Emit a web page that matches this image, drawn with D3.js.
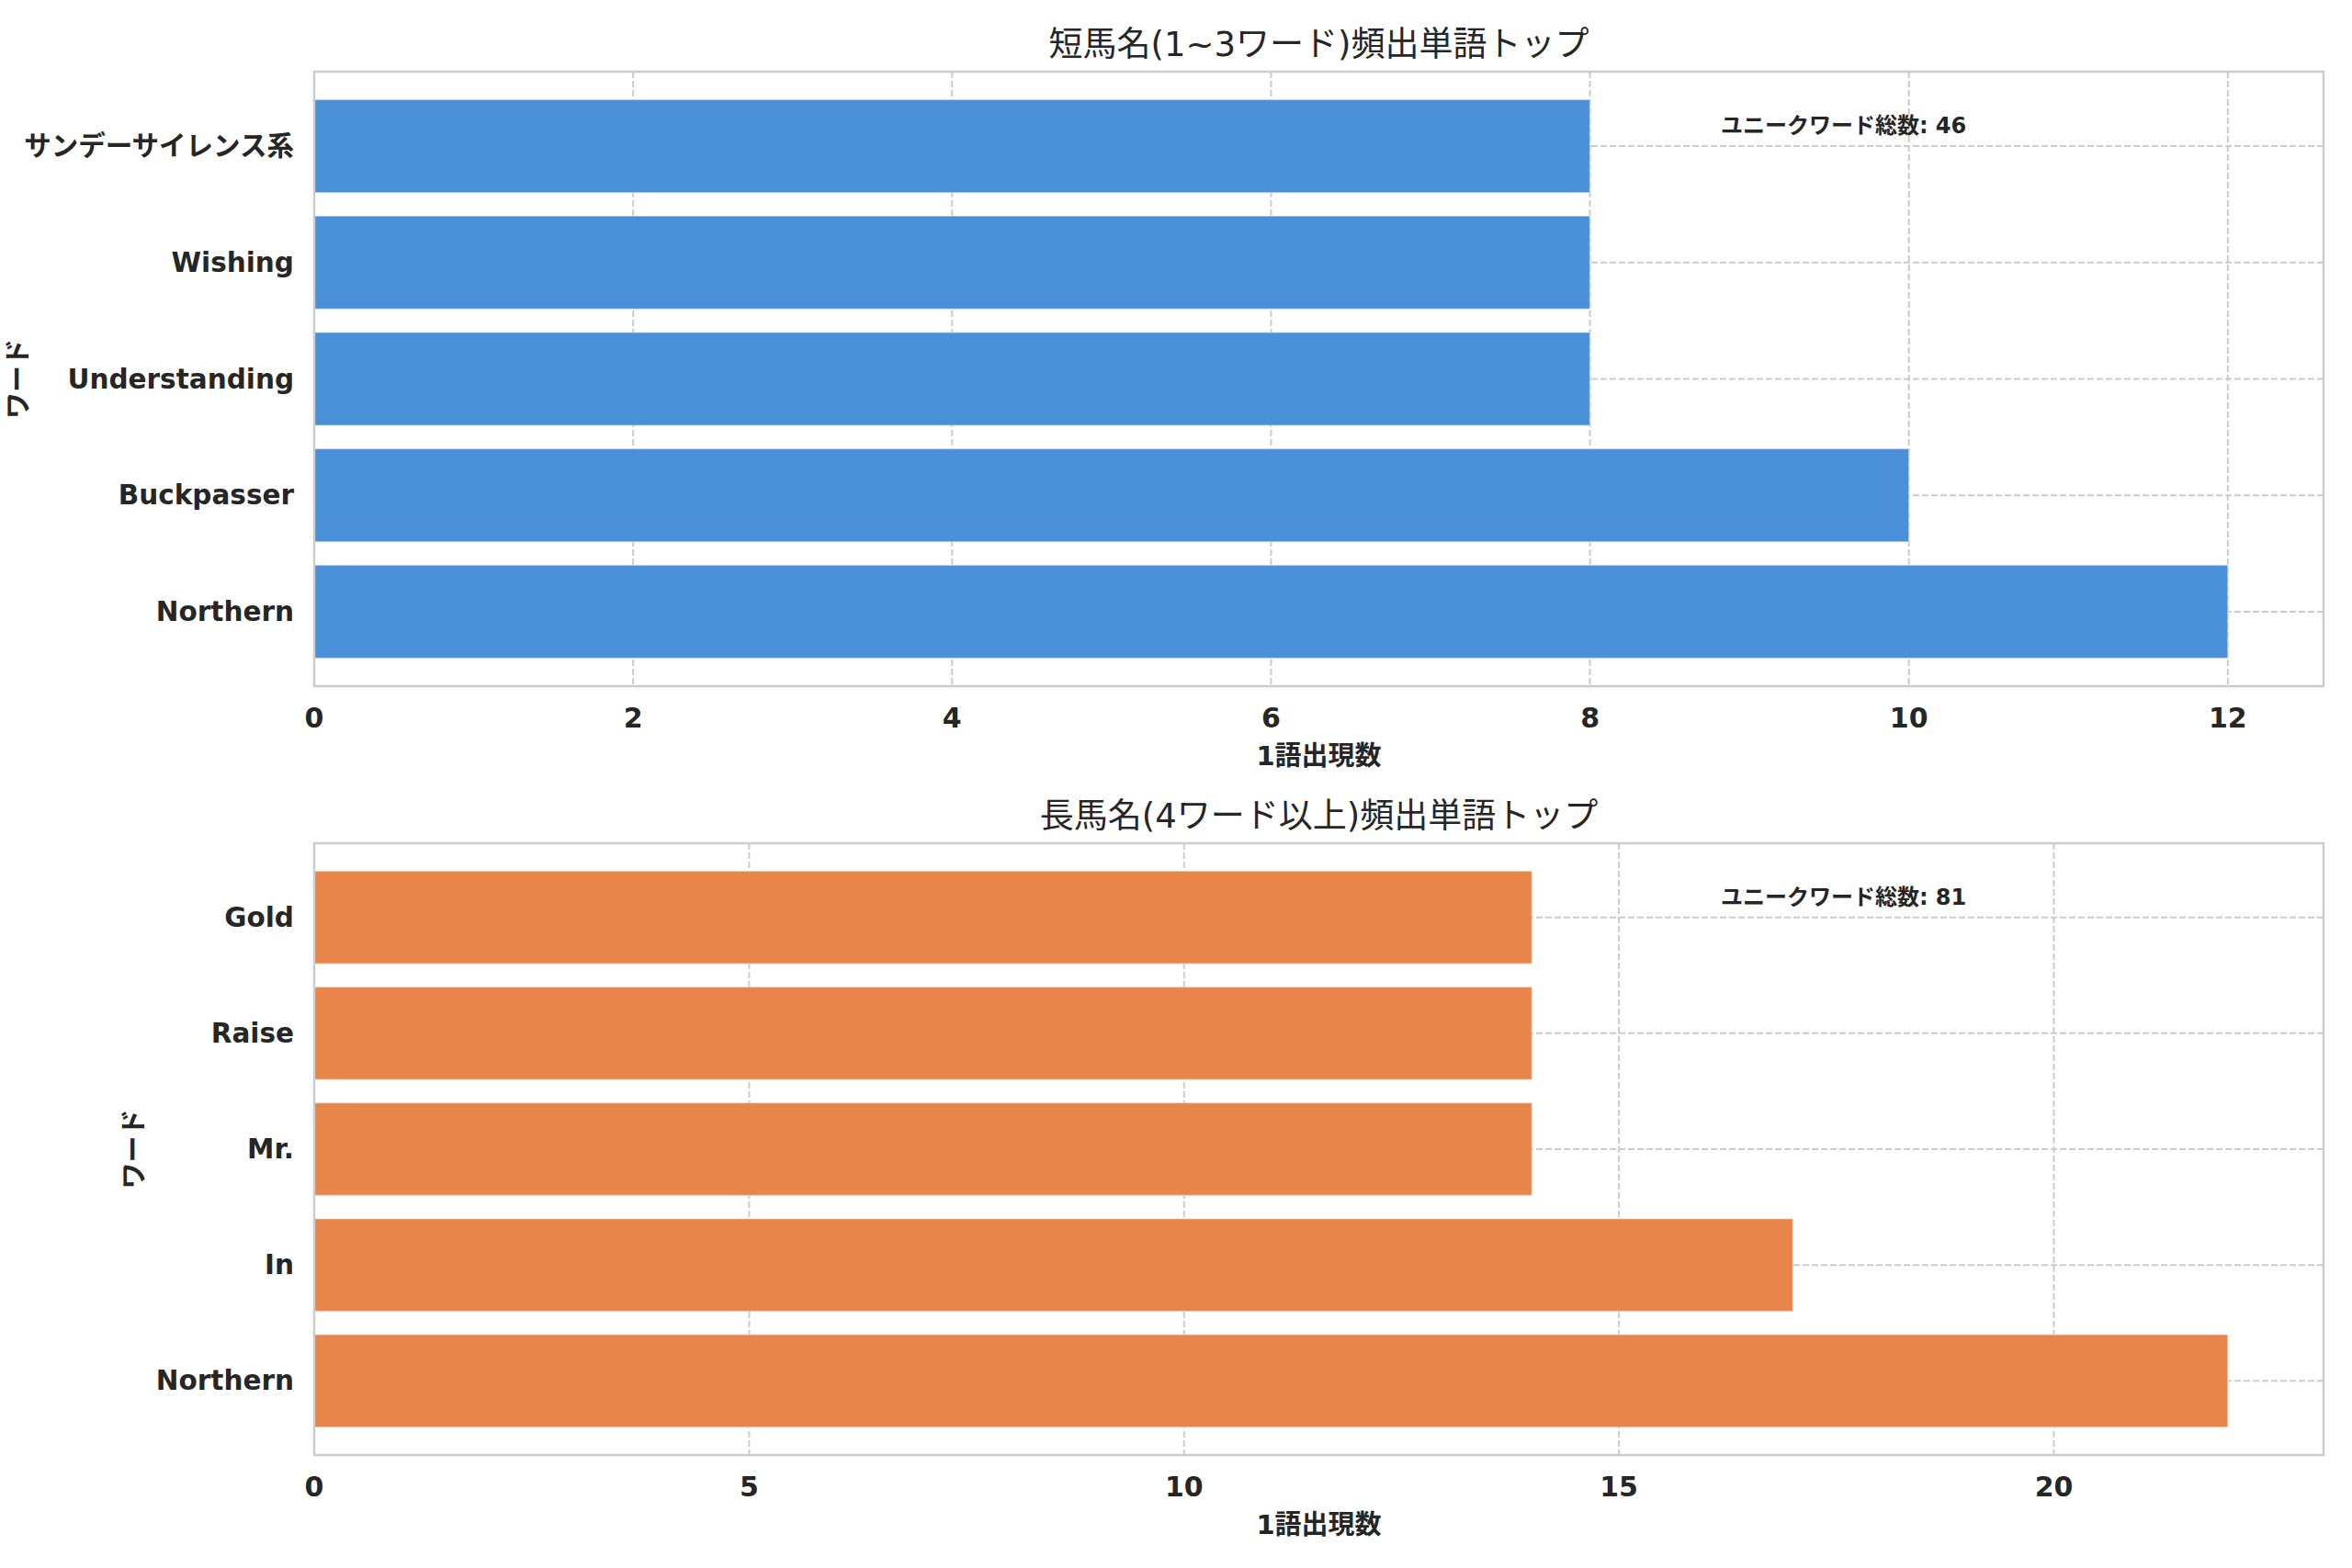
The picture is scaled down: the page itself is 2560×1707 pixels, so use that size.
<!DOCTYPE html>
<html>
<head>
<meta charset="utf-8">
<script src="https://cdn.jsdelivr.net/npm/d3@7/dist/d3.min.js"></script>
<style>
  html, body { margin: 0; padding: 0; background: #ffffff; }
  svg { display: block; }
  text { font-family: "DejaVu Sans", "Noto Sans CJK JP", sans-serif; fill: #262626; }
</style>
</head>
<body>
<svg id="chart" width="2560" height="1707"></svg>
<script>
// ---- data ----
const shortWords  = ["Northern", "Buckpasser", "Understanding", "Wishing", "サンデーサイレンス系"];
const shortCounts = [12, 10, 8, 8, 8];
const shortTicks  = [0, 2, 4, 6, 8, 10, 12];
const shortTitle  = "短馬名(1~3ワード)頻出単語トップ";
const shortUnique = 46;

const longWords   = ["Northern", "In", "Mr.", "Raise", "Gold"];
const longCounts  = [22, 17, 14, 14, 14];
const longTicks   = [0, 5, 10, 15, 20];
const longTitle   = "長馬名(4ワード以上)頻出単語トップ";
const longUnique  = 81;

const xLabelText  = "1語出現数";
const yLabelText  = "ワード";
const uniqueLabel = "ユニークワード総数";

// ---- drawing ----
const svg = d3.select("#chart");
svg.append("rect").attr("width", 2560).attr("height", 1707).attr("fill", "#ffffff");

const panels = [
  { words: shortWords, counts: shortCounts, ticks: shortTicks, title: shortTitle, unique: shortUnique,
    color: "#4A90D9", top: 78, bottom: 747, yLabelX: 18 },
  { words: longWords, counts: longCounts, ticks: longTicks, title: longTitle, unique: longUnique,
    color: "#E8854B", top: 918, bottom: 1584, yLabelX: 144 }
];

const left = 342, right = 2529;
const gridColor = "#cccccc";

panels.forEach(p => {
  const g = svg.append("g");
  const x = d3.scaleLinear().domain([0, d3.max(p.counts) * 1.05]).range([left, right]);
  const n = p.words.length;
  const y = d3.scaleLinear().domain([-0.4 - 0.048 * n, (n - 1) + 0.4 + 0.048 * n]).range([p.bottom, p.top]);

  // vertical grid
  g.selectAll(".vgrid").data(p.ticks).enter().append("line")
    .attr("x1", d => x(d)).attr("x2", d => x(d))
    .attr("y1", p.top).attr("y2", p.bottom)
    .attr("stroke", gridColor).attr("stroke-width", 2)
    .attr("stroke-dasharray", "7,3");
  // horizontal grid
  g.selectAll(".hgrid").data(p.words).enter().append("line")
    .attr("x1", left).attr("x2", right)
    .attr("y1", (d, i) => y(i)).attr("y2", (d, i) => y(i))
    .attr("stroke", gridColor).attr("stroke-width", 2)
    .attr("stroke-dasharray", "7,3");

  // bars
  g.selectAll(".bar").data(p.counts).enter().append("rect")
    .attr("x", x(0))
    .attr("y", (d, i) => y(i + 0.4))
    .attr("width", d => x(d) - x(0))
    .attr("height", (d, i) => y(i - 0.4) - y(i + 0.4))
    .attr("fill", p.color)
    .attr("stroke", "#ffffff").attr("stroke-opacity", 0.4).attr("stroke-width", 1.5);

  // spines
  g.append("rect")
    .attr("x", left).attr("y", p.top)
    .attr("width", right - left).attr("height", p.bottom - p.top)
    .attr("fill", "none").attr("stroke", gridColor).attr("stroke-width", 2.5);

  // x tick labels
  g.selectAll(".xtick").data(p.ticks).enter().append("text")
    .attr("x", d => x(d)).attr("y", p.bottom + 45)
    .attr("text-anchor", "middle")
    .attr("font-size", 30).attr("font-weight", "bold")
    .text(d => d);

  // y tick labels
  g.selectAll(".ytick").data(p.words).enter().append("text")
    .attr("x", 320).attr("y", (d, i) => y(i))
    .attr("text-anchor", "end").attr("dominant-baseline", "central")
    .attr("font-size", 29.5).attr("font-weight", "bold")
    .text(d => d);

  // title
  g.append("text")
    .attr("x", (left + right) / 2).attr("y", p.top - 17)
    .attr("text-anchor", "middle").attr("font-size", 37)
    .text(p.title);

  // x label
  g.append("text")
    .attr("x", (left + right) / 2).attr("y", p.bottom + 86)
    .attr("text-anchor", "middle").attr("font-size", 29).attr("font-weight", "bold")
    .text(xLabelText);

  // y label
  g.append("text")
    .attr("transform", `translate(${p.yLabelX + 12},${(p.top + p.bottom) / 2}) rotate(-90)`)
    .attr("text-anchor", "middle")
    .attr("font-size", 29).attr("font-weight", "bold")
    .text(yLabelText);

  // annotation
  g.append("text")
    .attr("x", left + 0.7 * (right - left))
    .attr("y", p.top + 0.05 * (p.bottom - p.top) + 34)
    .attr("text-anchor", "start")
    .attr("font-size", 24).attr("font-weight", "bold")
    .text(`${uniqueLabel}: ${p.unique}`);
});
</script>
</body>
</html>
